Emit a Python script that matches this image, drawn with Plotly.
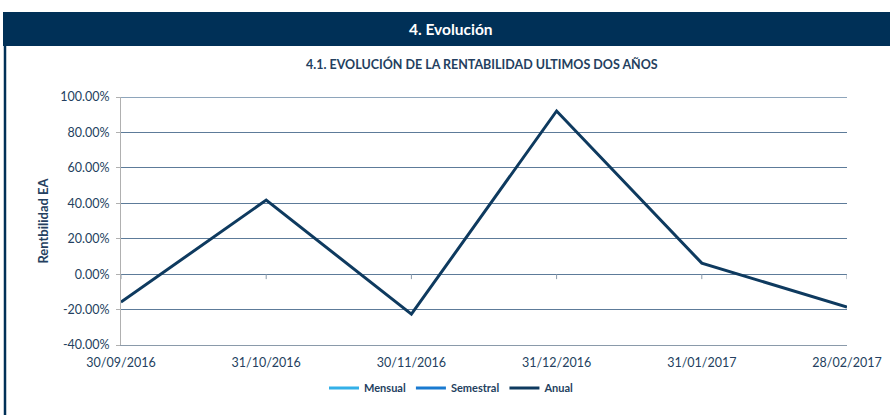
import plotly.graph_objects as go

categories = ["30/09/2016", "31/10/2016", "30/11/2016", "31/12/2016", "31/01/2017", "28/02/2017"]
mensual = [None, None, None, None, None, None]
semestral = [None, None, None, None, None, None]
anual = [-15.8, 41.8, -22.6, 92.1, 6.2, -18.6]
y_ticks = [-40, -20, 0, 20, 40, 60, 80, 100]
y_tick_labels = [f"{v:.2f}%" for v in y_ticks]

NAVY = "#0e3a5f"
TXT = "#243f60"
FONT = "Lato, 'Open Sans', sans-serif"

W, H = 890, 415
L, R, T, B = 121, 43, 97, 70
PW, PH = W - L - R, H - T - B


def px(x):
    return (x - L) / PW


def py(y):
    return (H - B - y) / PH


fig = go.Figure()
fig.add_trace(go.Scatter(x=categories, y=mensual, mode="lines", name="Mensual",
                         line=dict(color="#33b0e8", width=3)))
fig.add_trace(go.Scatter(x=categories, y=semestral, mode="lines", name="Semestral",
                         line=dict(color="#1a7ad0", width=3)))
fig.add_trace(go.Scatter(x=categories, y=anual, mode="lines", name="Anual",
                         line=dict(color=NAVY, width=3)))

fig.update_layout(
    width=W, height=H,
    margin=dict(l=L, r=R, t=T, b=B, autoexpand=False),
    paper_bgcolor="white", plot_bgcolor="white",
    font=dict(family=FONT, color=TXT, size=12),
    showlegend=True,
    legend=dict(orientation="h", x=px(452), xanchor="center", y=py(388), yanchor="middle",
                font=dict(size=11, color=TXT, family=FONT, weight="bold"),
                itemwidth=30, tracegroupgap=0),
    xaxis=dict(type="category", range=[0, 5], showgrid=False, zeroline=False,
               showline=True, linecolor="#8a9aaa", linewidth=1,
               ticks="", ticklabelstandoff=6, tickfont=dict(size=12.5, color=TXT)),
    yaxis=dict(range=[-40, 100], tickvals=y_ticks, ticktext=y_tick_labels,
               showgrid=True, gridcolor="#5d7b99", gridwidth=1,
               zeroline=True, zerolinecolor="#5d7b99", zerolinewidth=1,
               showline=True, linecolor="#b0b0b0", linewidth=1,
               ticks="outside", ticklen=4, tickcolor="#b0b0b0", ticklabelstandoff=4,
               tickfont=dict(size=12.5, color=TXT),
               title=dict(text="Rentbilidad EA", standoff=8,
                          font=dict(size=13, color=TXT, family=FONT, weight="bold"))),
)

# small tick marks on the zero line at each category
for c in categories:
    fig.add_shape(type="line", xref="x", yref="y", ysizemode="pixel", yanchor=0,
                  x0=c, x1=c, y0=0, y1=-5, line=dict(color="#8a9aaa", width=1))

# header bar and frame
fig.add_shape(type="rect", xref="paper", yref="paper",
              x0=px(3), x1=px(900), y0=py(46), y1=py(12),
              fillcolor="#003057", line=dict(width=0), layer="above")
fig.add_shape(type="line", xref="paper", yref="paper",
              x0=px(5), x1=px(5), y0=py(46), y1=py(420),
              line=dict(color="#003057", width=2.5))
# darker top gridline
fig.add_shape(type="line", xref="paper", yref="y", x0=0, x1=1, y0=100, y1=100,
              line=dict(color="#1f4d78", width=1))

fig.add_annotation(text="<b>4. Evolución</b>", xref="paper", yref="paper",
                   x=px(451), y=py(29), showarrow=False,
                   font=dict(size=15.5, color="white", family=FONT),
                   xanchor="center", yanchor="middle")
fig.add_annotation(text="<b>4.1. EVOLUCIÓN DE LA RENTABILIDAD ULTIMOS DOS AÑOS</b>",
                   xref="paper", yref="paper",
                   x=px(482), y=py(64), showarrow=False,
                   font=dict(size=12.5, color=TXT, family=FONT),
                   xanchor="center", yanchor="middle")

fig.write_html("out.html", config={"displayModeBar": False},
               post_script="document.body.style.margin='0';")
